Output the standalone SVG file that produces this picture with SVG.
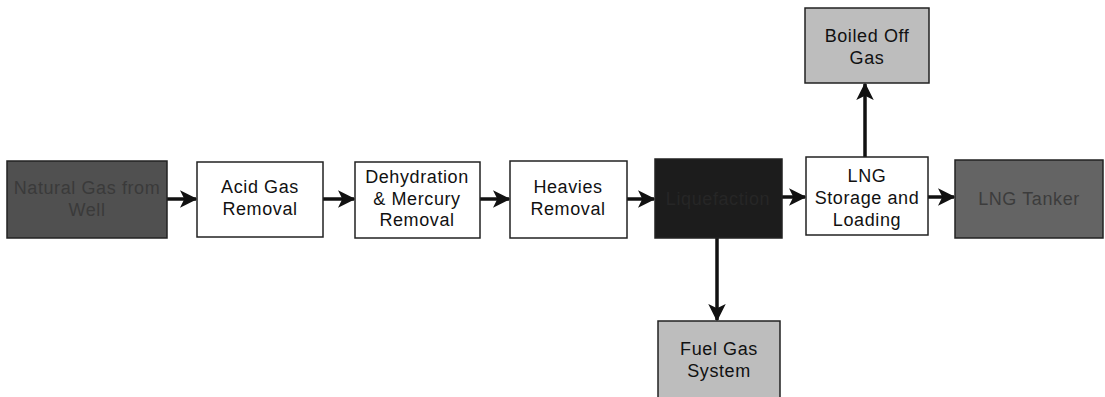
<svg xmlns="http://www.w3.org/2000/svg" width="1105" height="397" viewBox="0 0 1105 397">
<defs>
<style>
.box{stroke:#222;stroke-width:1.5}
.w{fill:#fff}
.lt{fill:#bdbdbd}
.t{font-family:"Liberation Sans",Arial,sans-serif;font-size:18px;fill:#111;text-anchor:middle;letter-spacing:0.6px}
.c{stroke:#111;stroke-width:3.5;fill:none;marker-end:url(#ah)}
</style>
<marker id="ah" viewBox="0 0 12 12" refX="11" refY="6" markerWidth="5" markerHeight="5" orient="auto" markerUnits="strokeWidth">
<path d="M0,0 L12,6 L0,12 L3,6 Z" fill="#111"/>
</marker>
</defs>
<rect width="1105" height="397" fill="#fff"/>
<g id="connectors">
<line class="c" x1="167" y1="199" x2="196" y2="199"/>
<line class="c" x1="323" y1="199" x2="354" y2="199"/>
<line class="c" x1="480" y1="199" x2="509" y2="199"/>
<line class="c" x1="627" y1="199" x2="654" y2="199"/>
<line class="c" x1="782" y1="197" x2="805" y2="197"/>
<line class="c" x1="928" y1="197" x2="954" y2="197"/>
<line class="c" x1="717" y1="238" x2="717" y2="320"/>
<line class="c" x1="865" y1="157" x2="865" y2="84"/>
</g>
<g id="natural-gas">
<rect class="box" x="7" y="161" width="160" height="77" fill="#505050"/>
<text class="t" x="87" y="194" fill="#3a3a3a" style="fill:#3a3a3a">Natural Gas from</text>
<text class="t" x="87" y="216" style="fill:#3a3a3a">Well</text>
</g>
<g id="acid-gas">
<rect class="box w" x="197" y="162" width="126" height="75"/>
<text class="t" x="260" y="193">Acid Gas</text>
<text class="t" x="260" y="215">Removal</text>
</g>
<g id="dehydration">
<rect class="box w" x="355" y="162" width="125" height="76"/>
<text class="t" x="417" y="183">Dehydration</text>
<text class="t" x="417" y="205">&amp; Mercury</text>
<text class="t" x="417" y="226">Removal</text>
</g>
<g id="heavies">
<rect class="box w" x="510" y="161" width="117" height="77"/>
<text class="t" x="568" y="193">Heavies</text>
<text class="t" x="568" y="215">Removal</text>
</g>
<g id="liquefaction">
<rect class="box" x="655" y="159" width="127" height="79" fill="#1c1c1c"/>
<text class="t" x="718" y="205" style="fill:#262626">Liquefaction</text>
</g>
<g id="lng-storage">
<rect class="box w" x="806" y="157" width="122" height="78"/>
<text class="t" x="867" y="182">LNG</text>
<text class="t" x="867" y="204">Storage and</text>
<text class="t" x="867" y="226">Loading</text>
</g>
<g id="lng-tanker">
<rect class="box" x="955" y="160" width="148" height="78" fill="#646464"/>
<text class="t" x="1029" y="205" style="fill:#3c3c3c">LNG Tanker</text>
</g>
<g id="boiled-off-gas">
<rect class="box lt" x="805" y="8" width="124" height="75"/>
<text class="t" x="867" y="42">Boiled Off</text>
<text class="t" x="867" y="64">Gas</text>
</g>
<g id="fuel-gas">
<rect class="box lt" x="658" y="321" width="122" height="80"/>
<text class="t" x="719" y="355">Fuel Gas</text>
<text class="t" x="719" y="377">System</text>
</g>
</svg>
